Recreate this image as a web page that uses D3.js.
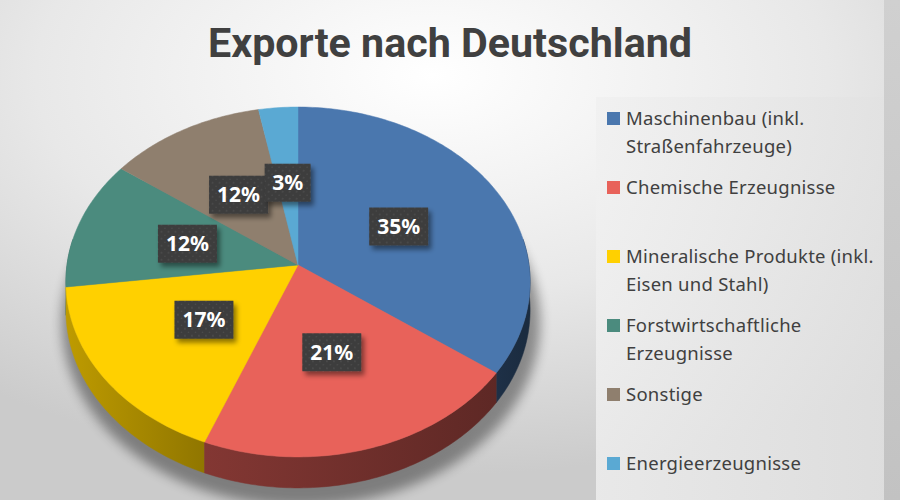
<!DOCTYPE html>
<html>
<head>
<meta charset="utf-8">
<script src="https://cdn.jsdelivr.net/npm/d3@7"></script>
<style>
  body { margin: 0; background: #e6e6e6; }
  svg { display: block; }
</style>
</head>
<body>
<div id="chart"></div>
<script>
// chart data
var title = "Exporte nach Deutschland";
var categories = ["Maschinenbau (inkl. Straßenfahrzeuge)", "Chemische Erzeugnisse",
  "Mineralische Produkte (inkl. Eisen und Stahl)", "Forstwirtschaftliche Erzeugnisse",
  "Sonstige", "Energieerzeugnisse"];
var legendLines = [["Maschinenbau (inkl.", "Straßenfahrzeuge)"], ["Chemische Erzeugnisse"],
  ["Mineralische Produkte (inkl.", "Eisen und Stahl)"], ["Forstwirtschaftliche", "Erzeugnisse"],
  ["Sonstige"], ["Energieerzeugnisse"]];
var values = [35, 21, 17, 12, 12, 3];
var colors = ["#4a77ae", "#e8625a", "#ffd000", "#4b8b7e", "#8f7f6e", "#5aa9d3"];

var width = 900, height = 500;

// pie geometry (tilted disc, seen in perspective)
var cx = 298, cy = 265;
var rx = 231, ry = 173.3;   // half axes of the top face
var persp = 0.097;          // how much nearer parts grow
var thick = 28;             // side height

var svg = d3.select("#chart").append("svg")
    .attr("width", width)
    .attr("height", height);

var defs = svg.append("defs");

// background gradient
var bg = defs.append("radialGradient").attr("id", "bg")
    .attr("cx", "48%").attr("cy", "15%").attr("r", "80%");
bg.append("stop").attr("offset", "0").attr("stop-color", "#ffffff");
bg.append("stop").attr("offset", "0.55").attr("stop-color", "#e8e8e8");
bg.append("stop").attr("offset", "1").attr("stop-color", "#cbcbcb");

var lg = defs.append("linearGradient").attr("id", "legendBg")
    .attr("x1", "0").attr("x2", "1").attr("y1", "0").attr("y2", "0");
lg.append("stop").attr("offset", "0").attr("stop-color", "#f0f0f0");
lg.append("stop").attr("offset", "1").attr("stop-color", "#e2e2e2");

var edge = defs.append("linearGradient").attr("id", "edgeBg")
    .attr("x1", "0").attr("x2", "0").attr("y1", "0").attr("y2", "1");
edge.append("stop").attr("offset", "0").attr("stop-color", "#d0d0d0");
edge.append("stop").attr("offset", "1").attr("stop-color", "#c2c2c2");

// dotted pattern for the label boxes
var pat = defs.append("pattern").attr("id", "dots")
    .attr("width", 7).attr("height", 7).attr("patternUnits", "userSpaceOnUse");
pat.append("rect").attr("width", 7).attr("height", 7).attr("fill", "#3c3c3c");
pat.append("circle").attr("cx", 2).attr("cy", 2).attr("r", 0.8).attr("fill", "#575757");
pat.append("circle").attr("cx", 5.5).attr("cy", 5.5).attr("r", 0.8).attr("fill", "#505050");

defs.append("filter").attr("id", "boxShadow")
    .attr("x", "-30%").attr("y", "-30%").attr("width", "160%").attr("height", "160%")
  .append("feDropShadow")
    .attr("dx", 3).attr("dy", 4).attr("stdDeviation", 2.5)
    .attr("flood-color", "#000").attr("flood-opacity", 0.45);

defs.append("filter").attr("id", "pieShadow")
    .attr("x", "-20%").attr("y", "-20%").attr("width", "140%").attr("height", "140%")
  .append("feGaussianBlur").attr("stdDeviation", 6);

svg.append("rect").attr("width", width).attr("height", height).attr("fill", "url(#bg)");
svg.append("rect").attr("x", 596).attr("y", 97).attr("width", 288).attr("height", 403)
    .attr("fill", "url(#legendBg)").attr("opacity", 0.8);
svg.append("rect").attr("x", 884).attr("y", 0).attr("width", 16).attr("height", height)
    .attr("fill", "url(#edgeBg)");

// title
svg.append("text")
    .attr("x", 450).attr("y", 57)
    .attr("text-anchor", "middle")
    .attr("font-family", "'Liberation Sans Narrow', 'Roboto', sans-serif")
    .attr("font-weight", "bold")
    .attr("font-size", 40)
    .attr("fill", "#404040")
    .attr("textLength", 484)
    .attr("lengthAdjust", "spacingAndGlyphs")
    .text(title);

// scales for the projected disc
var xScale = d3.scaleLinear().domain([-1, 1]).range([cx - rx, cx + rx]);
var yScale = d3.scaleLinear().domain([-1, 1]).range([cy - ry, cy + ry]);

// angle from the top, clockwise; r in 0..1; h = 0 top face, 1 bottom face
function project(a, r, h) {
  var u = r * Math.sin(a), v = -r * Math.cos(a);
  var d = 1 - persp * v;
  return [xScale(u / d), yScale((v + h * thick / ry) / d)];
}

function arcPoints(a0, a1, r, h) {
  var n = Math.max(2, Math.ceil((a1 - a0) / (Math.PI / 180)));
  return d3.range(n + 1).map(function(i) { return project(a0 + (a1 - a0) * i / n, r, h); });
}

var line = d3.line();
var pie = d3.pie().sort(null).value(function(d) { return d; });
var arcs = pie(values);
var total = d3.sum(values);
var pct = d3.format(".0%");

// soft shadow under the pie
svg.append("path")
    .attr("d", line(arcPoints(0, 2 * Math.PI, 1.03, 1.15)) + "Z")
    .attr("transform", "translate(3,7)")
    .attr("fill", "#000")
    .attr("opacity", 0.38)
    .attr("filter", "url(#pieShadow)");

// side walls (front part only), lit from the left
function shade(c, f) {
  var k = d3.rgb(c);
  return d3.rgb(k.r * f, k.g * f, k.b * f).formatHex();
}
function light(a) {
  var t = Math.min(1, Math.max(0, (a - Math.PI / 2) / Math.PI));
  return 0.37 + 0.4 * Math.pow(t, 1.5);
}

var visA0 = Math.PI / 2 - 0.15, visA1 = 3 * Math.PI / 2 + 0.15;
var sides = [];
arcs.forEach(function(s, i) {
  var a0 = Math.max(s.startAngle, visA0), a1 = Math.min(s.endAngle, visA1);
  if (a1 <= a0) return;
  var pl = project(a1, 1, 0), pr = project(a0, 1, 0);
  var g = defs.append("linearGradient").attr("id", "side" + i)
      .attr("gradientUnits", "userSpaceOnUse")
      .attr("x1", pl[0]).attr("x2", Math.max(pr[0], pl[0] + 1)).attr("y1", 0).attr("y2", 0);
  g.append("stop").attr("offset", "0").attr("stop-color", shade(colors[i], light(a1)));
  g.append("stop").attr("offset", "1").attr("stop-color", shade(colors[i], light(a0)));
  var top = arcPoints(a0, a1, 1, 0);
  var bottom = arcPoints(a0, a1, 1, 1).reverse();
  sides.push({ i: i, d: line(top.concat(bottom)) + "Z", mid: -Math.cos((a0 + a1) / 2) });
});
sides.sort(function(a, b) { return a.mid - b.mid; });

svg.append("g").selectAll("path")
  .data(sides)
  .enter()
  .append("path")
    .attr("d", function(d) { return d.d; })
    .attr("fill", function(d) { return "url(#side" + d.i + ")"; })
    .attr("stroke", function(d) { return "url(#side" + d.i + ")"; })
    .attr("stroke-width", 0.5);

// top faces
svg.append("g").selectAll("path")
  .data(arcs)
  .enter()
  .append("path")
    .attr("d", function(d) {
      return line([project(0, 0, 0)].concat(arcPoints(d.startAngle, d.endAngle, 1, 0))) + "Z";
    })
    .attr("fill", function(d, i) { return colors[i]; })
    .attr("stroke", function(d, i) { return colors[i]; })
    .attr("stroke-width", 0.5);

// data labels at half radius
var labels = svg.append("g").selectAll("g")
  .data(arcs)
  .enter()
  .append("g")
    .attr("transform", function(d) {
      var p = project((d.startAngle + d.endAngle) / 2, 0.5, 0);
      return "translate(" + p[0] + "," + p[1] + ")";
    });

labels.append("rect")
    .attr("x", function(d) { return d.value < 10 ? -23 : -29.5; })
    .attr("y", -19)
    .attr("width", function(d) { return d.value < 10 ? 46 : 59; })
    .attr("height", 38)
    .attr("fill", "url(#dots)")
    .attr("filter", "url(#boxShadow)");

labels.append("text")
    .attr("text-anchor", "middle")
    .attr("dy", "0.36em")
    .attr("font-family", "'Noto Sans', sans-serif")
    .attr("font-weight", "bold")
    .attr("font-size", 21)
    .attr("fill", "#ffffff")
    .text(function(d) { return pct(d.value / total); });

// legend
var legendY = d3.scaleLinear().domain([0, 1]).range([125, 194]);
var legend = svg.append("g").selectAll("g")
  .data(categories)
  .enter()
  .append("g")
    .attr("transform", function(d, i) { return "translate(607," + legendY(i) + ")"; });

legend.append("rect")
    .attr("x", 0).attr("y", -13)
    .attr("width", 13).attr("height", 13)
    .attr("fill", function(d, i) { return colors[i]; });

legend.append("text")
    .attr("font-family", "'Noto Sans', sans-serif")
    .attr("font-size", 18.5)
    .attr("letter-spacing", 0.25)
    .attr("fill", "#404040")
    .selectAll("tspan")
    .data(function(d, i) { return legendLines[i]; })
    .enter()
    .append("tspan")
      .attr("x", 19)
      .attr("y", function(d, j) { return j * 27.5; })
      .text(function(d) { return d; });
</script>
</body>
</html>
